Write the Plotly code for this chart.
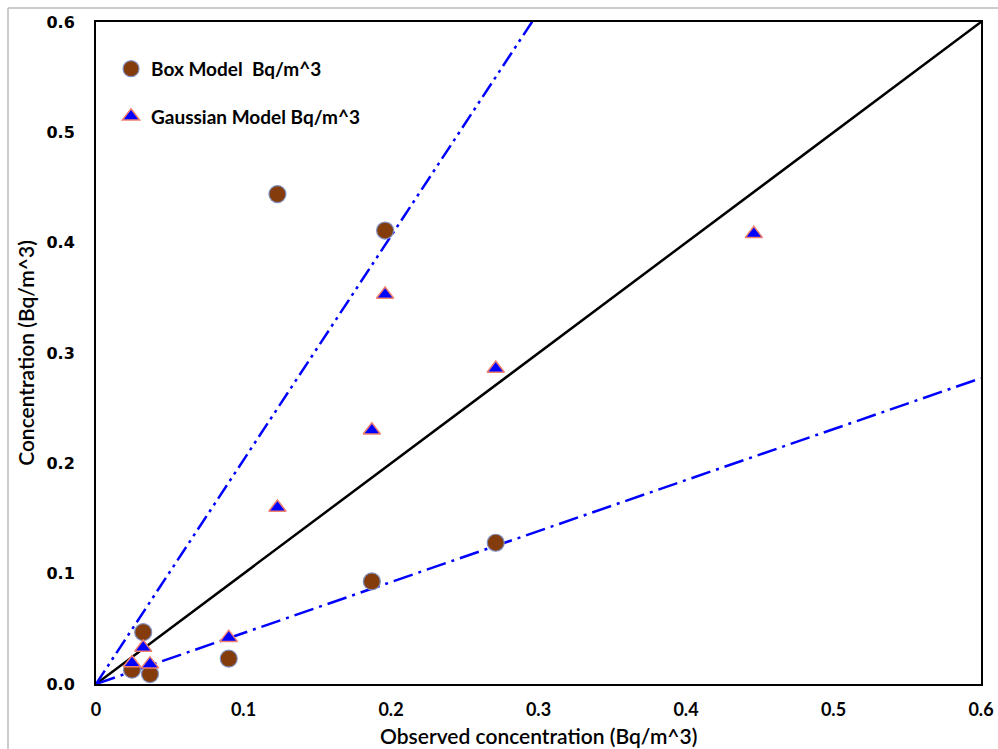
import plotly.graph_objects as go

# Data
box_x = [0.123, 0.196, 0.271, 0.187, 0.090, 0.032, 0.0244, 0.0366]
box_y = [0.444, 0.411, 0.128, 0.093, 0.023, 0.047, 0.013, 0.009]

gauss_x = [0.446, 0.196, 0.271, 0.187, 0.123, 0.090, 0.032, 0.0244, 0.0366]
gauss_y = [0.408, 0.353, 0.286, 0.230, 0.160, 0.042, 0.033, 0.019, 0.018]

line_x = [0.0, 0.6]
one_to_one = [0.0, 0.6]
upper_factor = 2.03
lower_factor = 0.462

x_ticks = [0, 0.1, 0.2, 0.3, 0.4, 0.5, 0.6]
x_tick_text = ["0", "0.1", "0.2", "0.3", "0.4", "0.5", "0.6"]
y_ticks = [0, 0.1, 0.2, 0.3, 0.4, 0.5, 0.6]
y_tick_text = ["0.0", "0.1", "0.2", "0.3", "0.4", "0.5", "0.6"]

x_title = "Observed concentration (Bq/m^3)"
y_title = "Concentration (Bq/m^3)"

CAL = "Lato, Open Sans, sans-serif"

fig = go.Figure()

fig.add_trace(go.Scatter(x=line_x, y=one_to_one, mode="lines",
                         line=dict(color="black", width=2.5), showlegend=False,
                         hoverinfo="skip"))
fig.add_trace(go.Scatter(x=line_x, y=[v * upper_factor for v in line_x], mode="lines",
                         line=dict(color="#0000FF", width=2.5,
                                   dash="16px,5px,3px,5px,3px,5px"),
                         showlegend=False, hoverinfo="skip"))
fig.add_trace(go.Scatter(x=line_x, y=[v * lower_factor for v in line_x], mode="lines",
                         line=dict(color="#0000FF", width=2.5,
                                   dash="20px,6px,3px,6px"),
                         showlegend=False, hoverinfo="skip"))

fig.add_trace(go.Scatter(x=box_x, y=box_y, mode="markers",
                         name="Box Model\u00a0 Bq/m^3", legendgroup="a",
                         marker=dict(symbol="circle", size=17, color="#843C0C",
                                     line=dict(color="#7F8FC0", width=1.2))))
fig.add_trace(go.Scatter(x=gauss_x, y=gauss_y, mode="markers",
                         name="Gaussian Model Bq/m^3", legendgroup="b",
                         marker=dict(symbol="triangle-up", size=15, color="#0000FF",
                                     line=dict(color="#F08070", width=1.5))))

fig.update_layout(
    width=998, height=749,
    margin=dict(l=96, r=17, t=22, b=65),
    paper_bgcolor="white", plot_bgcolor="white",
    showlegend=True,
    legend=dict(x=0.017, y=0.958, xanchor="left", yanchor="top",
                bgcolor="rgba(0,0,0,0)", tracegroupgap=20,
                font=dict(family=CAL, size=19, color="black", weight="bold"),
                itemwidth=30),
    xaxis=dict(range=[0, 0.6], tickvals=x_ticks, ticktext=x_tick_text,
               showgrid=False, zeroline=False, showline=True, linecolor="black",
               linewidth=2, mirror=True, ticks="", ticklabelstandoff=8,
               automargin=False,
               tickfont=dict(family=CAL, size=18, color="black", weight="bold")),
    yaxis=dict(range=[0, 0.6], tickvals=y_ticks, ticktext=y_tick_text,
               showgrid=False, zeroline=False, showline=True, linecolor="black",
               linewidth=2, mirror=True, ticks="", ticklabelstandoff=16,
               automargin=False,
               tickfont=dict(family="DejaVu Sans, Verdana, sans-serif", size=16,
                             color="black", weight="bold"),
               title=dict(text=y_title, standoff=6,
                          font=dict(family=CAL, size=21, color="black", weight=600))),
    annotations=[
        dict(text=x_title, xref="paper", yref="paper", x=0.5,
             y=(684 - 722) / 662, xanchor="center", yanchor="top",
             showarrow=False, borderpad=0,
             font=dict(family=CAL, size=21, color="black", weight=600)),
    ],
    shapes=[
        dict(type="line", xref="paper", yref="paper",
             x0=(8 - 96) / 885, x1=(8 - 96) / 885, y0=-0.2, y1=(684 - 8) / 662,
             line=dict(color="#BBBBBB", width=1.5)),
        dict(type="line", xref="paper", yref="paper",
             x0=(8 - 96) / 885, x1=1.1, y0=(684 - 8) / 662, y1=(684 - 8) / 662,
             line=dict(color="#BBBBBB", width=1.5)),
    ],
)

fig.write_html("out.html")
